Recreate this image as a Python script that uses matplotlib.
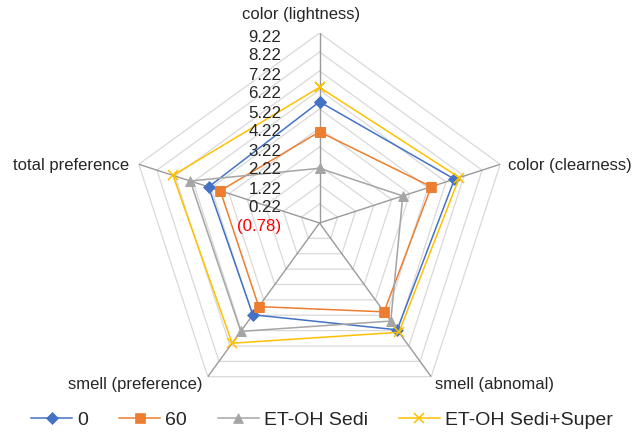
import numpy as np
import matplotlib.pyplot as plt
from matplotlib.transforms import ScaledTranslation

# radar chart data
categories = ['color (lightness)', 'color (clearness)', 'smell (abnomal)',
              'smell (preference)', 'total preference']
series_names = ['0', '60', 'ET-OH Sedi', 'ET-OH Sedi+Super']
vals_0 = [5.60, 6.69, 6.17, 5.19, 5.36]
vals_60 = [4.02, 5.40, 5.00, 4.66, 4.71]
vals_sedi = [2.10, 3.83, 5.60, 6.27, 6.37]
vals_super = [6.36, 6.96, 6.33, 7.04, 7.33]
r_ticks = [-0.78, 0.22, 1.22, 2.22, 3.22, 4.22, 5.22, 6.22, 7.22, 8.22, 9.22]
r_labels = ['(0.78)', '0.22', '1.22', '2.22', '3.22', '4.22', '5.22',
            '6.22', '7.22', '8.22', '9.22']

plt.rcParams['font.family'] = ['Liberation Sans', 'DejaVu Sans']

fig = plt.figure(figsize=(6.44, 4.33), dpi=100)
W, H = 644, 433
cx, cy, R = 319.5, 223, 190
ax = fig.add_axes([(cx - R) / W, (H - cy - R) / H, 2 * R / W, 2 * R / H],
                  projection='polar')
ax.set_theta_zero_location('N')
ax.set_theta_direction(-1)
ax.set_ylim(r_ticks[0], r_ticks[-1])
ax.set_xticks([])
ax.set_yticks([])
ax.grid(False)
ax.spines['polar'].set_visible(False)
ax.patch.set_alpha(0)

n = len(categories)
theta = np.linspace(0, 2 * np.pi, n, endpoint=False)
theta_c = np.append(theta, theta[0])

# polygon gridlines
for r in r_ticks[1:]:
    ax.plot(theta_c, [r] * (n + 1), color='#D9D9D9', lw=0.9, zorder=1)
# spokes
for t in theta:
    ax.plot([t, t], [r_ticks[0], r_ticks[-1]], color='#9A9A9A', lw=1.0, zorder=2)

colors = ['#4472C4', '#ED7D31', '#A5A5A5', '#FFC000']
markers = ['D', 's', '^', 'x']
sizes = [6, 7.5, 7.5, 7.5]
all_vals = [vals_0, vals_60, vals_sedi, vals_super]
for name, v, c, m, s in zip(series_names, all_vals, colors, markers, sizes):
    vv = v + [v[0]]
    ax.plot(theta_c, vv, color=c, lw=1.1, marker=m, markersize=s,
            markeredgewidth=1.1 if m == 'x' else 0.5, label=name, zorder=3)

# radial tick labels, left of the vertical axis
off = ScaledTranslation(-0.38, -0.04, fig.dpi_scale_trans)
for r, lab in zip(r_ticks, r_labels):
    ax.text(0, r, lab, transform=ax.transData + off, ha='right', va='center',
            fontsize=12.2, color='#FF0000' if lab.startswith('(') else '#262626')

# category labels
txt = dict(fontsize=12, color='#262626', va='center')
fig.text(301.5 / W, 1 - 15 / H, categories[0], ha='center', **txt)
fig.text(508 / W, 1 - 165 / H, categories[1], ha='left', **txt)
fig.text(435 / W, 1 - 385 / H, categories[2], ha='left', **txt)
fig.text(203 / W, 1 - 385 / H, categories[3], ha='right', **txt)
fig.text(129 / W, 1 - 165 / H, categories[4], ha='right', **txt)

fig.legend(loc='center', bbox_to_anchor=(0.5, 1 - 420 / H), ncol=4,
           frameon=False, fontsize=14, handlelength=2.1, handletextpad=0.26,
           columnspacing=1.6, labelcolor='#262626')

fig.savefig('out.png', dpi=100)
